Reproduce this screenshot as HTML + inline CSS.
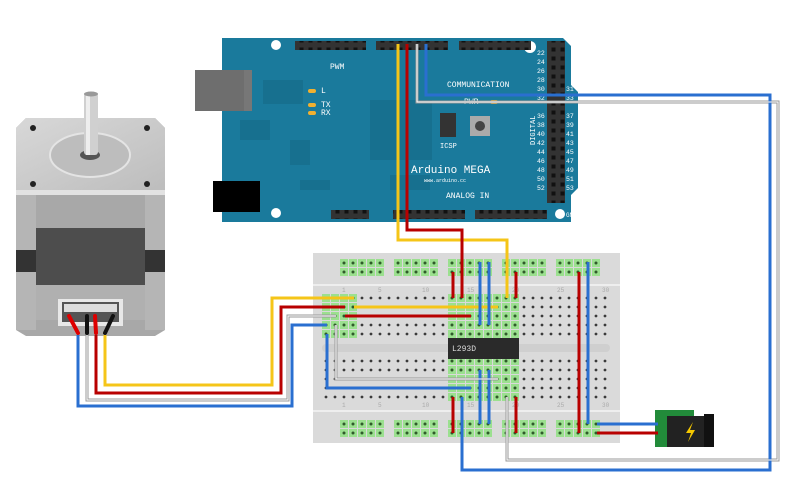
<!DOCTYPE html>
<html><head><meta charset="utf-8"><style>
html,body{margin:0;padding:0;background:#fff;width:790px;height:479px;overflow:hidden}
svg{display:block}
text{font-family:"Liberation Mono",monospace;fill:#fff}
</style></head><body>
<svg width="790" height="479" viewBox="0 0 790 479" xmlns="http://www.w3.org/2000/svg">
<defs>
<pattern id="hole" x="321.5" y="293.5" width="9" height="9" patternUnits="userSpaceOnUse"><circle cx="4.5" cy="4.5" r="1.4" fill="#3a3a3a"/></pattern>
<pattern id="ghole" x="321.5" y="293.5" width="9" height="9" patternUnits="userSpaceOnUse"><rect x="0.5" y="0.5" width="8" height="8" fill="#9be08f"/><circle cx="4.5" cy="4.5" r="1.5" fill="#2f5a2a"/></pattern>
<pattern id="rail" x="339.5" y="258.5" width="9" height="9" patternUnits="userSpaceOnUse"><rect x="0.5" y="0.5" width="8" height="8" fill="#9be08f"/><circle cx="4.5" cy="4.5" r="1.5" fill="#2f5a2a"/></pattern>
<pattern id="rail2" x="339.5" y="419.5" width="9" height="9" patternUnits="userSpaceOnUse"><rect x="0.5" y="0.5" width="8" height="8" fill="#9be08f"/><circle cx="4.5" cy="4.5" r="1.5" fill="#2f5a2a"/></pattern>
<pattern id="pin" x="0" y="0" width="9" height="9" patternUnits="userSpaceOnUse"><rect width="9" height="9" fill="#333"/><rect x="2.5" y="2.5" width="4" height="4" fill="#111"/></pattern>
<linearGradient id="mtop" x1="0" y1="0" x2="1" y2="1"><stop offset="0" stop-color="#d8d8d8"/><stop offset="1" stop-color="#bdbdbd"/></linearGradient>
</defs>

<!-- Motor -->
<polygon points="16,128 26,118 155,118 165,128 165,330 155,336 26,336 16,330" fill="#a8a8a8"/>
<polygon points="16,128 26,118 155,118 165,128 165,190 16,190" fill="url(#mtop)"/>
<polygon points="16,190 165,190 165,195 16,195" fill="#e2e2e2"/>
<rect x="16" y="240" width="149" height="50" fill="#333"/>
<rect x="36" y="228" width="109" height="90" fill="#4d4d4d"/>
<rect x="16" y="195" width="20" height="55" fill="#b5b5b5"/>
<rect x="145" y="195" width="20" height="55" fill="#b5b5b5"/>
<rect x="16" y="272" width="20" height="58" fill="#b5b5b5"/>
<rect x="145" y="272" width="20" height="58" fill="#b5b5b5"/>
<rect x="36" y="285" width="109" height="35" fill="#b0b0b0"/>
<circle cx="33" cy="128" r="3" fill="#222"/><circle cx="147" cy="128" r="3" fill="#222"/>
<circle cx="33" cy="184" r="3" fill="#222"/><circle cx="147" cy="184" r="3" fill="#222"/>
<ellipse cx="90" cy="155" rx="40" ry="22" fill="#bdbdbd" stroke="#e4e4e4" stroke-width="2"/>
<ellipse cx="90" cy="155" rx="10" ry="5" fill="#555"/>
<rect x="84" y="93" width="14" height="62" rx="3" fill="#d0d0d0"/>
<rect x="86" y="93" width="4" height="62" fill="#eee"/>
<ellipse cx="91" cy="94" rx="7" ry="2.5" fill="#999"/>
<rect x="58" y="299" width="65" height="27" fill="#e8e8e8"/>
<rect x="62" y="302" width="57" height="20" fill="#555"/>
<rect x="64" y="304" width="53" height="8" fill="#ddd"/>
<g stroke-width="4" stroke-linecap="round">
<line x1="69" y1="316" x2="78" y2="333" stroke="#d00"/>
<line x1="87" y1="316" x2="87" y2="333" stroke="#111"/>
<line x1="95" y1="316" x2="96" y2="333" stroke="#d00"/>
<line x1="113" y1="316" x2="105" y2="333" stroke="#111"/>
</g>

<!-- Arduino -->
<polygon points="222,38 563,38 571,46 571,85 578,92 578,188 571,195 571,222 222,222" fill="#1a7a9c"/>
<rect x="195" y="70" width="57" height="41" fill="#6e6e6e"/>
<rect x="244" y="70" width="8" height="41" fill="#777"/>
<rect x="213" y="181" width="47" height="31" fill="#000"/>
<circle cx="276" cy="45" r="5" fill="#fff"/><circle cx="276" cy="213" r="5" fill="#fff"/>
<circle cx="530" cy="47" r="6" fill="#fff"/><circle cx="560" cy="214" r="5" fill="#fff"/>
<g fill="#17708f">
<rect x="263" y="80" width="40" height="24"/><rect x="370" y="100" width="62" height="60"/><rect x="290" y="140" width="20" height="25"/><rect x="240" y="120" width="30" height="20"/><rect x="300" y="180" width="30" height="10"/><rect x="390" y="175" width="40" height="15"/>
</g>
<rect x="295" y="41" width="71" height="9" fill="url(#pin)"/>
<rect x="376" y="41" width="72" height="9" fill="url(#pin)"/>
<rect x="459" y="41" width="72" height="9" fill="url(#pin)"/>
<rect x="331" y="210" width="38" height="9" fill="url(#pin)"/>
<rect x="393" y="210" width="72" height="9" fill="url(#pin)"/>
<rect x="475" y="210" width="72" height="9" fill="url(#pin)"/>
<rect x="547" y="41" width="18" height="162" fill="url(#pin)"/>
<g font-size="6.5">
<text x="330" y="69" font-size="8">PWM</text>
<text x="447" y="87" font-size="8">COMMUNICATION</text>
<text x="464" y="104" font-size="8">PWR</text>
<text x="321" y="93" font-size="8">L</text>
<text x="321" y="107" font-size="8">TX</text>
<text x="321" y="115" font-size="8">RX</text>
<text x="440" y="148" font-size="7">ICSP</text>
<text x="411" y="173" font-size="11">Arduino MEGA</text>
<text x="424" y="182" font-size="5">www.arduino.cc</text>
<text x="446" y="198" font-size="8">ANALOG IN</text>
<text x="566" y="217" font-size="6">GND</text>
</g>
<g font-size="6.5" fill="#fff">
<text x="537" y="55">22</text><text x="537" y="64">24</text><text x="537" y="73">26</text><text x="537" y="82">28</text><text x="537" y="91">30</text><text x="537" y="100">32</text><text x="537" y="118">36</text><text x="537" y="127">38</text><text x="537" y="136">40</text><text x="537" y="145">42</text><text x="537" y="154">44</text><text x="537" y="163">46</text><text x="537" y="172">48</text><text x="537" y="181">50</text><text x="537" y="190">52</text>
<text x="566" y="91">31</text><text x="566" y="100">33</text><text x="566" y="118">37</text><text x="566" y="127">39</text><text x="566" y="136">41</text><text x="566" y="145">43</text><text x="566" y="154">45</text><text x="566" y="163">47</text><text x="566" y="172">49</text><text x="566" y="181">51</text><text x="566" y="190">53</text>
</g>
<text x="0" y="0" font-size="7" transform="translate(535,145) rotate(-90)">DIGITAL</text>
<rect x="308" y="89" width="8" height="4" rx="2" fill="#f0b030"/>
<rect x="308" y="103" width="8" height="4" rx="2" fill="#f0b030"/>
<rect x="308" y="111" width="8" height="4" rx="2" fill="#f0b030"/>
<rect x="490" y="100" width="8" height="4" rx="2" fill="#f0b030"/>
<rect x="440" y="113" width="16" height="24" fill="#333"/>
<rect x="470" y="116" width="20" height="20" fill="#aaa"/><circle cx="480" cy="126" r="5" fill="#444"/>

<!-- Breadboard -->
<rect x="313" y="253" width="307" height="190" fill="#dadada"/>
<rect x="313" y="284" width="307" height="2" fill="#eee"/>
<rect x="313" y="410" width="307" height="2" fill="#eee"/>
<rect x="322" y="344" width="288" height="8" rx="4" fill="#cfcfcf"/>
<rect x="322" y="294" width="288" height="45" fill="url(#hole)"/>
<rect x="322" y="357" width="288" height="45" fill="url(#hole)"/>
<rect x="322" y="294" width="36" height="45" fill="url(#ghole)"/>
<rect x="448" y="294" width="72" height="45" fill="url(#ghole)"/>
<rect x="448" y="357" width="72" height="45" fill="url(#ghole)"/>
<g>
<rect x="340" y="259" width="45" height="18" fill="url(#rail)"/><rect x="394" y="259" width="45" height="18" fill="url(#rail)"/><rect x="448" y="259" width="45" height="18" fill="url(#rail)"/><rect x="502" y="259" width="45" height="18" fill="url(#rail)"/><rect x="556" y="259" width="45" height="18" fill="url(#rail)"/>
<rect x="340" y="420" width="45" height="18" fill="url(#rail2)"/><rect x="394" y="420" width="45" height="18" fill="url(#rail2)"/><rect x="448" y="420" width="45" height="18" fill="url(#rail2)"/><rect x="502" y="420" width="45" height="18" fill="url(#rail2)"/><rect x="556" y="420" width="45" height="18" fill="url(#rail2)"/>
</g>
<g font-size="6" font-family="Liberation Sans">
<text x="342" y="292" style="fill:#aaa">1</text><text x="378" y="292" style="fill:#aaa">5</text><text x="422" y="292" style="fill:#aaa">10</text><text x="467" y="292" style="fill:#aaa">15</text><text x="512" y="292" style="fill:#aaa">20</text><text x="557" y="292" style="fill:#aaa">25</text><text x="602" y="292" style="fill:#aaa">30</text>
<text x="342" y="407" style="fill:#aaa">1</text><text x="378" y="407" style="fill:#aaa">5</text><text x="422" y="407" style="fill:#aaa">10</text><text x="467" y="407" style="fill:#aaa">15</text><text x="512" y="407" style="fill:#aaa">20</text><text x="557" y="407" style="fill:#aaa">25</text><text x="602" y="407" style="fill:#aaa">30</text>
</g>
<rect x="448" y="338" width="71" height="21" fill="#2a2a2a"/>
<text x="452" y="351" font-size="8" style="fill:#ddd">L293D</text>

<!-- Power jack -->
<rect x="655" y="410" width="39" height="37" fill="#228b3a"/>
<rect x="667" y="416" width="40" height="31" fill="#222"/>
<rect x="704" y="414" width="10" height="33" fill="#111"/>
<polygon points="693,422 686,433 691,433 688,442 695,430 690,430" fill="#f5c800"/>

<!-- Wires -->
<g fill="none" stroke-width="3" stroke-linejoin="miter">
<polyline points="105,335 105,385 272,385 272,298 354,298" stroke="#f5c518"/>
<polyline points="96,335 96,393 281,393 281,307 345,307" stroke="#b80000"/>
<polyline points="87,335 87,400 288,400 288,316 336,316" stroke="#999"/>
<polyline points="78,335 78,406 292,406 292,325 327,325" stroke="#2a6fd0"/>
<polyline points="354,307 498,307" stroke="#f5c518"/>
<polyline points="345,316 471,316" stroke="#b80000"/>
<polyline points="336,325 336,379 498,379" stroke="#999"/>
<polyline points="327,334 327,388 471,388" stroke="#2a6fd0"/>
<line x1="453" y1="272" x2="453" y2="298" stroke="#b80000"/>
<line x1="480" y1="262" x2="480" y2="325" stroke="#2a6fd0"/>
<line x1="489" y1="262" x2="489" y2="325" stroke="#2a6fd0"/>
<line x1="516" y1="272" x2="516" y2="298" stroke="#b80000"/>
<line x1="453" y1="397" x2="453" y2="433" stroke="#b80000"/>
<line x1="480" y1="370" x2="480" y2="424" stroke="#2a6fd0"/>
<line x1="489" y1="370" x2="489" y2="424" stroke="#2a6fd0"/>
<line x1="516" y1="397" x2="516" y2="433" stroke="#b80000"/>
<line x1="579" y1="272" x2="579" y2="433" stroke="#b80000"/>
<line x1="588" y1="262" x2="588" y2="424" stroke="#2a6fd0"/>
<polyline points="597,424 658,424" stroke="#2a6fd0"/>
<polyline points="597,433 658,433" stroke="#b80000"/>
<polyline points="398,44 398,240 507,240 507,298" stroke="#f5c518"/>
<polyline points="407,44 407,230 462,230 462,298" stroke="#b80000"/>
<polyline points="417,44 417,102 778,102 778,460 507,460 507,397" stroke="#999"/>
<polyline points="426,44 426,95 770,95 770,470 462,470 462,397" stroke="#2a6fd0"/>
</g>
<g fill="none" stroke="#fff" stroke-width="1">
<polyline points="417,44 417,102 778,102 778,460 507,460 507,397"/>
<polyline points="336,325 336,379 498,379"/>
<polyline points="87,335 87,400 288,400 288,316 336,316"/>
</g>
</svg>
</body></html>
